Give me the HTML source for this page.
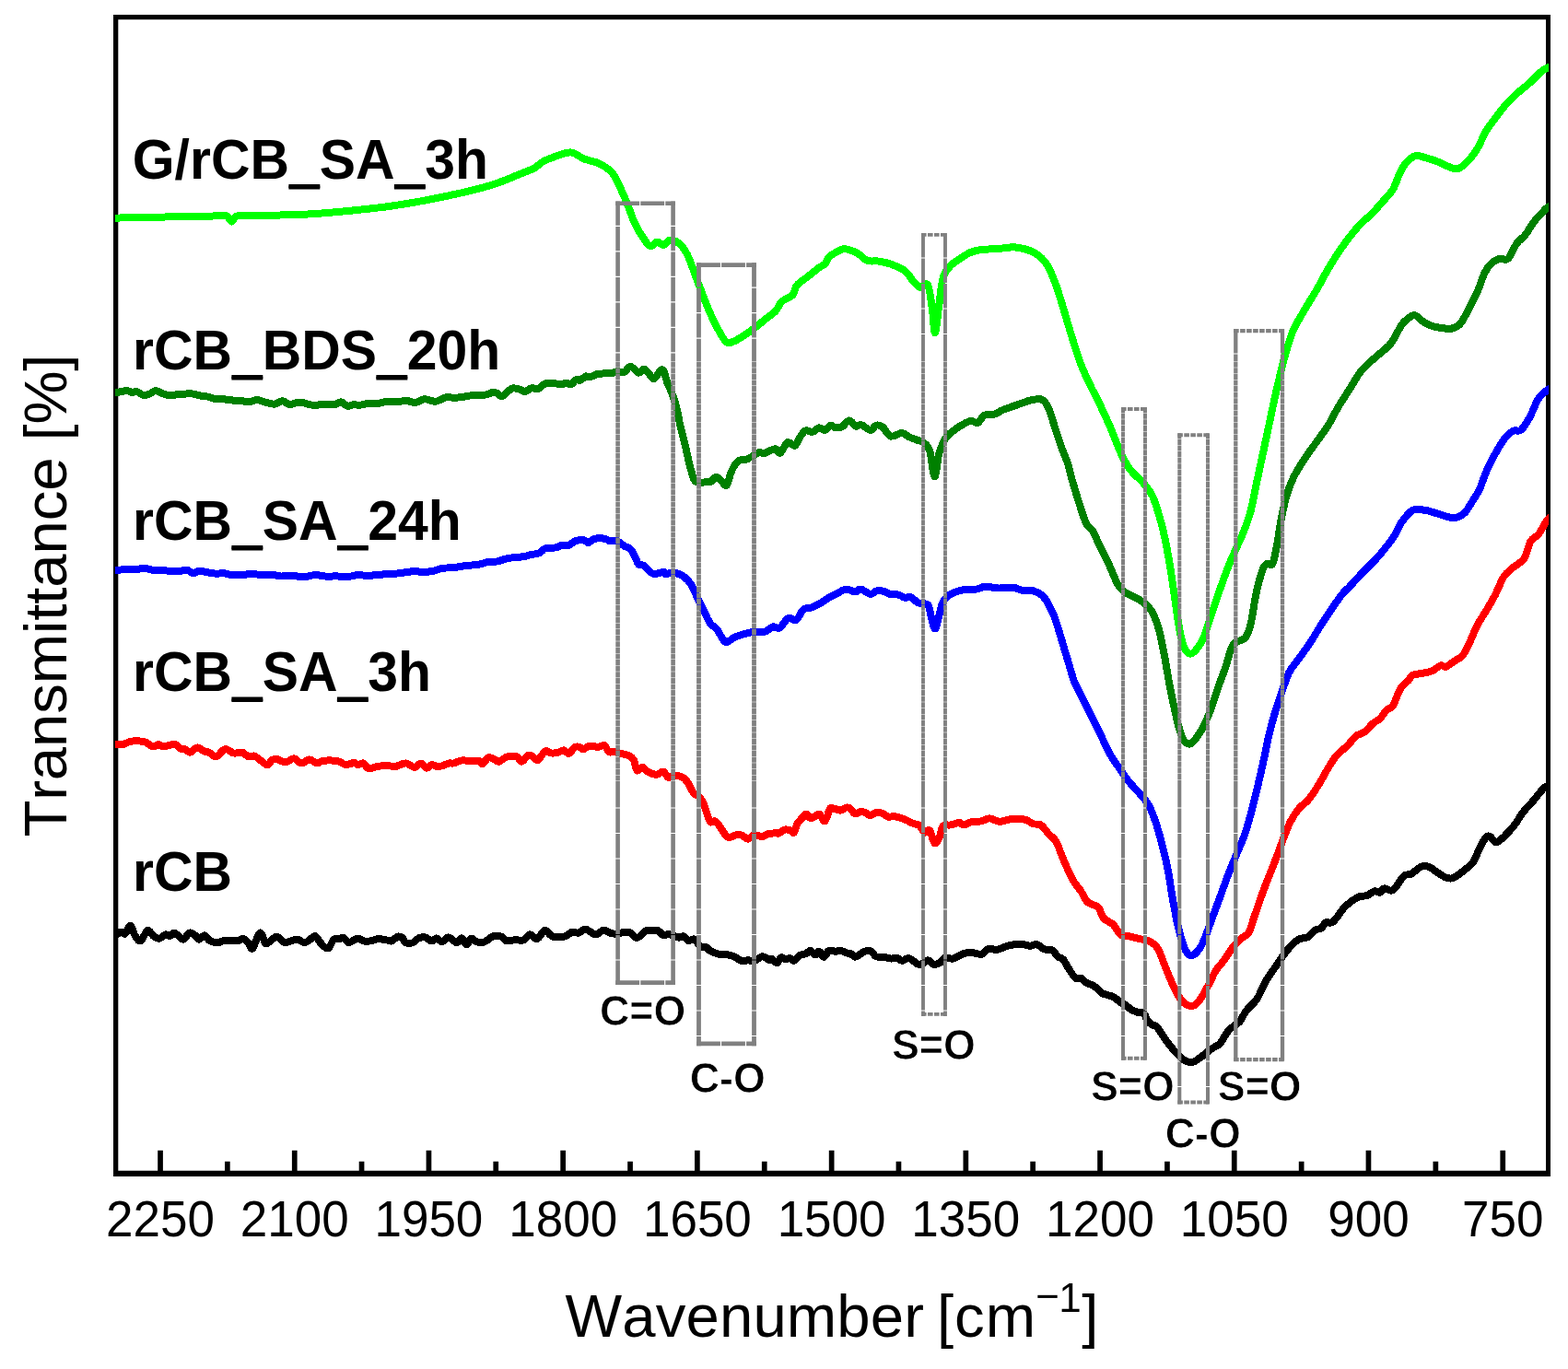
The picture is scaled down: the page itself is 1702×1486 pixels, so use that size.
<!DOCTYPE html>
<html lang="en"><head><meta charset="utf-8"><title>FTIR spectra</title>
<style>html,body{margin:0;padding:0;background:#fff}body{width:1702px;height:1486px;overflow:hidden}svg{display:block}text{font-family:"Liberation Sans",Arial,Helvetica,sans-serif;fill:#000;font-kerning:none}.b{font-weight:bold}</style>
</head><body>
<svg width="1702" height="1486" viewBox="0 0 1702 1486">
<rect width="1702" height="1486" fill="#fff"/>
<defs><clipPath id="c"><rect x="125" y="21.2" width="1556" height="1249.5"/></clipPath></defs>
<path d="M123 16H1683V1277H123Z M128.3 21.2V1270.7H1678V21.2Z" fill="#000" fill-rule="evenodd"/>
<path d="M171.2 1271.2v-22.5h5.7v22.5zM316.9 1271.2v-22.5h5.7v22.5zM462.6 1271.2v-22.5h5.7v22.5zM608.3 1271.2v-22.5h5.7v22.5zM754 1271.2v-22.5h5.7v22.5zM899.8 1271.2v-22.5h5.7v22.5zM1045.5 1271.2v-22.5h5.7v22.5zM1191.2 1271.2v-22.5h5.7v22.5zM1336.9 1271.2v-22.5h5.7v22.5zM1482.6 1271.2v-22.5h5.7v22.5zM1628.4 1271.2v-22.5h5.7v22.5zM244 1271.2v-10.5h5.7v10.5zM389.7 1271.2v-10.5h5.7v10.5zM535.4 1271.2v-10.5h5.7v10.5zM681.2 1271.2v-10.5h5.7v10.5zM826.9 1271.2v-10.5h5.7v10.5zM972.6 1271.2v-10.5h5.7v10.5zM1118.3 1271.2v-10.5h5.7v10.5zM1264.1 1271.2v-10.5h5.7v10.5zM1409.8 1271.2v-10.5h5.7v10.5zM1555.5 1271.2v-10.5h5.7v10.5z" fill="#000"/>
<g clip-path="url(#c)" fill="none" stroke-width="8" stroke-linejoin="round" stroke-linecap="butt" shape-rendering="crispEdges">
<path stroke="#000000" d="M118 1015C119.2 1015 123.7 1015.3 125.4 1015C127.1 1014.7 126.9 1014 127.9 1013.5C128.9 1012.9 130.1 1011.7 131.5 1011.7C132.8 1011.7 134.2 1014.7 135.9 1013.5C137.5 1012.3 139.7 1004.4 141.5 1004.7C143.3 1005 144.6 1012.5 146.4 1015.3C148.3 1018 150.3 1022.3 152.6 1021.4C154.9 1020.5 157.8 1010.8 160.2 1010C162.5 1009.1 164.6 1014.7 166.7 1016.1C168.8 1017.6 170.7 1019.1 172.9 1018.8C175.1 1018.5 178 1014.8 179.9 1014.4C181.8 1013.9 182.8 1016.4 184.3 1016.1C185.9 1015.8 187.5 1012.6 189.1 1012.6C190.7 1012.6 192.4 1015 194 1016.1C195.7 1017.3 197 1020.2 199 1019.7C201 1019.1 203.9 1013.3 206 1012.6C208.1 1011.9 210 1014.1 211.7 1015.3C213.3 1016.4 214.3 1019.7 216.1 1019.7C217.8 1019.7 220.3 1015 222.2 1015.3C224.1 1015.5 225.2 1019.6 227.5 1020.9C229.9 1022.2 233.7 1023.2 236.3 1023.2C239 1023.2 240.5 1021.3 243.4 1020.9C246.3 1020.5 251.3 1020.5 254 1020.5C256.6 1020.5 257.6 1021.2 259.3 1020.9C261 1020.6 262.4 1018.3 264.2 1018.8C266 1019.3 268.2 1022.3 269.8 1024.1C271.5 1025.8 272.2 1031.3 274.2 1029.4C276.3 1027.4 279.8 1013.5 282.2 1012.6C284.5 1011.7 286.3 1022.7 288.3 1024.1C290.4 1025.4 292.5 1021.8 294.5 1020.5C296.6 1019.3 298.3 1016.2 300.7 1016.7C303 1017.1 306.1 1022.4 308.6 1023.2C311.1 1024 313.3 1022 315.7 1021.4C318 1020.8 320.2 1019.4 322.7 1019.7C325.2 1020 328.3 1023.2 330.6 1023.2C333 1023.2 334.9 1020.8 336.8 1019.7C338.7 1018.5 340 1015.3 342.1 1016.1C344.2 1017 346.8 1022.7 349.2 1024.9C351.5 1027.2 354 1030.2 356.2 1029.4C358.4 1028.5 360.3 1021.4 362.4 1019.7C364.4 1018 366.8 1019.4 368.5 1019.1C370.3 1018.8 371.3 1017.2 373 1017.9C374.6 1018.6 376.3 1022.8 378.2 1023.2C380.2 1023.6 382.6 1020.9 384.4 1020.2C386.2 1019.5 387.1 1018.6 388.8 1018.8C390.6 1019 392.8 1021 395 1021.4C397.2 1021.9 399.4 1021.8 402 1021.4C404.7 1021 407.9 1019.3 410.9 1019.1C413.8 1019 417.6 1020.2 420 1020.5C422.4 1020.9 423.4 1022.1 425.3 1021.4C427.2 1020.8 429.5 1017.3 431.5 1016.7C433.4 1016.1 435.3 1016.8 436.7 1017.9C438.2 1019 438.4 1022.3 440.3 1023.2C442.2 1024.1 445.9 1024 448.2 1023.2C450.6 1022.4 452.2 1019.4 454.4 1018.4C456.6 1017.5 459.1 1016.9 461.4 1017.4C463.8 1017.9 466.4 1021.2 468.5 1021.4C470.5 1021.6 471.9 1018.3 473.8 1018.4C475.7 1018.6 477.8 1022.5 479.9 1022.3C482.1 1022.1 484 1017.2 486.6 1017.4C489.3 1017.5 493.4 1023 495.8 1023.2C498.2 1023.4 499.3 1018 501.1 1018.4C502.8 1018.8 504.7 1025.4 506.4 1025.5C508.1 1025.5 509.5 1019.4 511.3 1018.8C513.1 1018.2 515 1021.2 517 1022C518.9 1022.7 521.1 1023.4 523.1 1023.2C525.2 1023 527.2 1021.7 529.3 1020.5C531.3 1019.4 533 1016.8 535.5 1016.1C538 1015.5 541.9 1015.8 544.3 1016.7C546.6 1017.5 547.1 1020.8 549.6 1021.4C552.1 1022 556.2 1020.3 559.3 1020.2C562.3 1020 565.4 1021.5 568.1 1020.5C570.7 1019.6 572.6 1014.6 575.1 1014.4C577.6 1014.1 580.4 1019.9 583.1 1019.1C585.7 1018.4 588.5 1010.6 591 1010C593.5 1009.3 596 1014 598 1015.3C600.1 1016.5 600.7 1017.2 603.3 1017.4C606 1017.5 611 1017.1 613.9 1016.1C616.8 1015.2 618.6 1012.3 621 1011.7C623.3 1011.1 625.7 1013.1 628 1012.6C630.4 1012.1 632.9 1008.7 635.1 1008.6C637.3 1008.4 639.2 1010.8 641.2 1011.7C643.3 1012.7 645 1014.7 647.4 1014.4C649.7 1014 652.7 1009.8 655.3 1009.6C658 1009.4 660.8 1012.5 663.3 1013.1C665.8 1013.8 668 1013.7 670.3 1013.5C672.7 1013.3 675 1011.9 677.4 1011.7C679.7 1011.6 682.1 1011.6 684.4 1012.6C686.8 1013.6 688.8 1018.2 691.5 1017.9C694.1 1017.6 697.9 1012.2 700.3 1010.8C702.6 1009.5 703.2 1009.7 705.6 1009.6C707.9 1009.5 712 1009.4 714.4 1010.3C716.8 1011.3 718.2 1014.7 720 1015.3C721.8 1015.9 723.5 1014.1 725.3 1014.1C727.1 1014.1 728.7 1014.7 730.6 1015.3C732.5 1015.9 734.8 1017.4 736.7 1017.6C738.7 1017.8 740.3 1015.8 742 1016.4C743.8 1017 745.4 1020.6 747.3 1021.1C749.2 1021.6 751.7 1018.8 753.5 1019.4C755.3 1020 756.4 1023.2 757.9 1024.7C759.4 1026.1 760.8 1027.6 762.3 1028.2C763.8 1028.8 765.2 1027.5 766.7 1028.2C768.2 1028.9 768.6 1030.9 771.1 1032.2C773.6 1033.6 778.5 1035.4 781.7 1036.1C784.9 1036.8 787.9 1036 790.5 1036.5C793.2 1036.9 795.1 1037.6 797.6 1038.8C800.1 1039.9 803.1 1042.6 805.5 1043.2C807.8 1043.8 809.5 1042.3 811.7 1042.3C813.9 1042.3 816.1 1043.8 818.7 1043.2C821.4 1042.5 824.9 1038.5 827.5 1038.2C830.2 1038 832.8 1041.3 834.6 1041.8C836.3 1042.2 836.6 1040.5 838.1 1041.1C839.6 1041.6 841.8 1045.6 843.4 1045.3C845 1045 846.2 1039.9 847.8 1039.3C849.4 1038.6 851.5 1041.3 853.1 1041.4C854.7 1041.5 856 1039.8 857.5 1040C859 1040.2 860.1 1043.3 861.9 1042.8C863.7 1042.3 865.9 1038.3 868.1 1037C870.3 1035.7 873.2 1036.1 875.1 1035.2C877 1034.4 877.9 1031.5 879.5 1031.7C881.1 1031.9 883.2 1036.3 884.8 1036.5C886.4 1036.6 887.6 1032.2 889.2 1032.6C890.8 1033 892.7 1038.9 894.5 1038.8C896.3 1038.6 897.7 1032.7 899.8 1031.7C901.9 1030.7 904.8 1032.9 906.8 1032.9C908.9 1032.9 910.1 1031.5 912.1 1031.7C914.2 1031.9 917.3 1033.8 919.2 1034.4C921.1 1034.9 922.1 1034.5 923.6 1035.2C925.1 1036 926.4 1038.6 928 1038.8C929.6 1038.9 931.5 1037.1 933.3 1036.1C935.1 1035.1 936.5 1033.2 938.6 1032.6C940.6 1032 943.6 1031.7 945.6 1032.6C947.7 1033.5 948.6 1037.2 950.9 1038.2C953.3 1039.3 957.1 1038.4 959.7 1038.8C962.4 1039.1 964.4 1040.3 966.8 1040.5C969.1 1040.7 971.8 1039.6 973.8 1040C975.9 1040.4 977.1 1042.8 979.1 1042.8C981.2 1042.8 984.1 1039.9 986.2 1040C988.2 1040.1 989.7 1042.1 991.5 1043.2C993.2 1044.3 995 1046.3 996.7 1046.7C998.5 1047.1 1000.3 1046.5 1002 1045.8C1003.8 1045.1 1005.4 1042.1 1007.3 1042.3C1009.2 1042.4 1011.4 1046.2 1013.5 1046.7C1015.6 1047.2 1018 1046.4 1020 1045.3C1022 1044.1 1022.9 1040.7 1025.4 1039.9C1027.9 1039.1 1031.5 1041.3 1034.9 1040.5C1038.2 1039.8 1042.3 1036.2 1045.7 1035.1C1049.1 1034.1 1051.8 1033.9 1055.1 1034.1C1058.5 1034.2 1063 1036.5 1065.9 1035.8C1068.9 1035.1 1070 1030.8 1072.7 1030C1075.4 1029.2 1078.8 1031.3 1082.2 1030.8C1085.5 1030.3 1089.6 1028 1093 1027C1096.4 1026.1 1099.5 1025.3 1102.4 1025C1105.4 1024.7 1108 1024.7 1110.5 1025C1113.1 1025.3 1115.5 1026.8 1118 1026.8C1120.5 1026.8 1122.8 1024.4 1125.4 1025C1128 1025.6 1130.8 1029.4 1133.5 1030.4C1136.2 1031.4 1139.1 1029.7 1141.6 1031.1C1144.1 1032.4 1146.4 1036.8 1148.4 1038.5C1150.4 1040.2 1152 1039.3 1153.8 1041.2C1155.6 1043.1 1156.9 1046.6 1159.2 1050C1161.4 1053.4 1164.8 1059.5 1167.3 1061.5C1169.8 1063.5 1172 1061.3 1174.1 1062.2C1176.1 1063.1 1177.2 1065.5 1179.5 1066.9C1181.7 1068.2 1184.9 1068.5 1187.6 1070.3C1190.3 1072.1 1193.4 1076.1 1195.7 1077.7C1197.9 1079.3 1198.8 1078.9 1201.1 1079.7C1203.3 1080.5 1206.7 1081.1 1209.2 1082.4C1211.7 1083.8 1213.9 1086.5 1215.9 1087.8C1218 1089.2 1219.3 1089.2 1221.4 1090.5C1223.4 1091.9 1225.6 1094.5 1228.1 1095.9C1230.6 1097.4 1234 1098.6 1236.2 1099.3C1238.5 1100 1240 1098.5 1241.6 1100C1243.2 1101.5 1244.3 1106.1 1245.7 1108.1C1247.1 1110.1 1248.3 1111 1250 1112.2C1251.7 1113.3 1253.4 1112.1 1256 1114.9C1258.6 1117.7 1262.2 1124.7 1265.4 1129C1268.6 1133.3 1271.8 1137.3 1274.9 1140.8C1278.1 1144.3 1281.2 1148 1284.3 1150C1287.4 1152 1290.6 1153.4 1293.7 1153.1C1296.8 1152.8 1299.5 1150.3 1303 1147.9C1306.5 1145.5 1311.4 1141 1314.9 1138.5C1318.5 1136 1321.2 1135.9 1324.3 1132.6C1327.4 1129.2 1330.2 1122.3 1333.7 1118.4C1337.2 1114.5 1342.3 1112.5 1345.5 1109C1348.7 1105.5 1349.4 1101.3 1352.6 1097.2C1355.8 1093.1 1360.9 1089.6 1364.4 1084.3C1367.9 1079 1370.3 1071.5 1373.8 1065.4C1377.3 1059.3 1381.7 1053.5 1385.6 1047.8C1389.5 1042.1 1393.4 1035.9 1397.3 1031.3C1401.2 1026.7 1405.2 1022.4 1409 1020C1412.8 1017.6 1417 1018.7 1420 1017C1423 1015.3 1424.8 1011.4 1427.2 1009.8C1429.6 1008.2 1432.3 1008.8 1434.3 1007.4C1436.3 1006 1436.8 1002.7 1439 1001.5C1441.2 1000.3 1443.7 1003.3 1447.2 1000.4C1450.7 997.5 1455.7 988.3 1460.2 983.9C1464.7 979.5 1470.4 975.7 1474.3 973.7C1478.2 971.7 1480.8 973.2 1483.7 972.1C1486.7 971 1489.6 968 1492 967.4C1494.4 966.8 1496.1 969.1 1497.9 968.6C1499.7 968.1 1500.6 964.6 1502.6 964.3C1504.6 964 1507.7 966.8 1509.7 966.7C1511.7 966.6 1512.1 966.4 1514.4 963.8C1516.8 961.2 1520.9 953.4 1523.8 950.9C1526.7 948.4 1528.9 950.2 1532 948.5C1535.1 946.8 1539.4 942.1 1542.6 940.8C1545.8 939.5 1548.2 939.9 1550.9 940.8C1553.6 941.7 1556 944.3 1559 946.2C1562 948.1 1565.6 950.9 1568.6 952.1C1571.6 953.3 1573.7 954.2 1576.8 953.2C1579.9 952.2 1583.7 949.1 1587.4 946.2C1591.1 943.3 1596.1 939.9 1599.2 935.6C1602.3 931.3 1603.9 924.8 1606.2 920.3C1608.5 915.8 1611.3 910.5 1613.3 908.5C1615.3 906.5 1616.2 907.5 1618 908.5C1619.8 909.5 1621.5 914.4 1623.9 914.4C1626.3 914.4 1628.9 911.6 1632.2 908.5C1635.5 905.4 1640.5 900 1644 895.5C1647.5 891 1649.9 885.9 1653.4 881.4C1656.9 876.9 1661.5 872.5 1665 868.4C1668.5 864.3 1672.2 859.2 1674.6 856.7C1677 854.2 1677.1 854.3 1679.3 853.1C1681.5 851.9 1686.5 850.3 1688 849.8"/>
<path stroke="#ff0000" d="M118 808.4C119.2 808.4 123.7 808.4 125.4 808.4C127.1 808.4 126.5 808.3 127.9 808.2C129.4 808.1 131.9 808.4 134.1 807.9C136.3 807.3 138.7 805.6 141.2 805C143.7 804.4 146.3 804.2 149.1 804.3C151.9 804.4 155.1 804.6 157.9 805.6C160.7 806.6 163.5 809.9 165.8 810.3C168.2 810.8 170.1 808.2 172 808.2C173.9 808.2 175.4 810.2 177.3 810.3C179.2 810.5 181.3 809.5 183.5 809.1C185.7 808.7 188.3 807.2 190.5 807.9C192.7 808.5 194.9 812.2 196.7 813.1C198.4 814.1 199.5 812.9 201.1 813.5C202.7 814.1 204.2 817 206.4 816.7C208.6 816.3 211.8 811.6 214.3 811.4C216.8 811.1 219.2 814.3 221.4 815.3C223.6 816.2 225.3 816 227.5 817C229.7 818 231.8 822.1 234.6 821.4C237.4 820.8 241.2 813.8 244.3 813.1C247.4 812.5 250.6 816.7 253.1 817.4C255.6 818 257.5 817.1 259.3 817C261 817 261.9 816.3 263.7 817C265.4 817.8 267.8 820.8 269.8 821.4C271.9 822 273.9 820 276 820.5C278.1 821.1 279.8 823.3 282.2 824.9C284.5 826.6 287.9 830.2 290.1 830.2C292.3 830.2 293.6 826 295.4 824.9C297.2 823.9 298.8 823.8 300.7 824.1C302.6 824.4 304.9 826.3 306.8 826.7C308.8 827.2 310.1 827.3 312.1 826.7C314.2 826.1 316.7 822.9 319.2 823.2C321.7 823.5 324.3 828.3 327.1 828.5C329.9 828.7 333.1 824.4 335.9 824.4C338.7 824.4 341.4 828.2 343.9 828.5C346.4 828.7 347.1 826.2 350.9 825.8C354.7 825.4 363 825.5 366.8 826.2C370.6 826.8 371.8 829.2 373.8 829.7C375.9 830.2 377.4 829.7 379.1 829.4C380.9 829.1 382.8 827.8 384.4 827.9C386 828.1 387.2 830.1 388.8 830.2C390.4 830.3 392.2 827.8 394.1 828.5C396 829.2 397.8 833.7 400.3 834.3C402.8 834.9 405.8 832.5 409.1 832C412.4 831.5 416.7 831.1 420 831.1C423.3 831.1 426.5 832.1 428.8 832C431.2 831.9 432 830.8 434.1 830.2C436.2 829.7 438.5 828 441.2 828.5C443.8 828.9 447.3 832.9 450 832.9C452.6 832.9 454.8 828.3 457 828.5C459.2 828.6 461.3 833.5 463.2 833.8C465.1 834.1 466.6 830.5 468.5 830.2C470.4 829.9 472.6 831.9 474.6 832C476.7 832.1 478.8 831.7 480.8 831.1C482.9 830.5 485.1 828.9 487 828.5C488.9 828 490.2 828.9 492.3 828.5C494.3 828 497.3 826.3 499.3 825.8C501.4 825.3 503 825.4 504.6 825.5C506.2 825.5 507.3 826.2 509 826.2C510.8 826.2 513.3 825.5 515.2 825.5C517.1 825.5 519 825.6 520.5 826.2C521.9 826.8 522.4 829.7 524 829C525.6 828.4 528.1 823.1 530.2 822.3C532.2 821.5 534.4 823.3 536.3 824.1C538.3 824.8 539.3 827.2 541.6 826.7C544 826.3 547.2 822.3 550.4 821.4C553.7 820.5 558.4 820.5 561 821.4C563.7 822.3 564.3 827 566.3 826.7C568.4 826.4 571.3 820.5 573.4 819.7C575.4 818.8 576.9 820.5 578.6 821.4C580.4 822.3 581.7 826 583.9 824.9C586.1 823.9 589.5 816.5 591.9 815.3C594.2 814 595.8 817.1 598 817.4C600.2 817.7 602.7 817.5 605.1 817C607.4 816.5 610.1 814.2 612.1 814.4C614.2 814.5 615.4 818.5 617.4 817.9C619.5 817.3 622.4 811.9 624.5 810.8C626.5 809.8 628.3 810.9 629.8 811.4C631.2 811.8 631.7 813.8 633.3 813.5C634.9 813.2 636.8 810.1 639.5 809.6C642.1 809.2 646.4 810.9 649.2 810.8C651.9 810.8 654.3 808.2 656.2 809.1C658.1 810 658.9 815 660.6 816.1C662.4 817.3 664.6 815.8 666.8 816.1C669 816.4 671.2 817.2 673.8 817.9C676.5 818.6 680.3 819 682.6 820.2C685 821.4 686.5 822.2 687.9 824.9C689.4 827.7 689.8 835.1 691.5 836.4C693.1 837.7 695.6 832.6 697.6 832.9C699.7 833.2 701.3 836.8 703.8 838.2C706.3 839.5 709.9 840.9 712.6 840.8C715.3 840.7 717.9 837.1 720 837.6C722.1 838.1 723.5 843 725.3 843.8C727.1 844.6 728.2 842.7 730.6 842.6C732.9 842.4 736.7 841.8 739.4 842.9C742 844 744.2 846.1 746.4 849.1C748.6 852 750.7 858 752.6 860.5C754.5 863 756.1 862.3 757.9 864.1C759.7 865.8 761.6 867.9 763.2 871.1C764.8 874.4 766.3 879.9 767.6 883.5C768.9 887 769.7 891 771.1 892.3C772.6 893.6 774.6 890.5 776.4 891.4C778.2 892.3 780.1 895.4 781.7 897.6C783.3 899.8 784.5 902.7 786.1 904.6C787.7 906.5 789.2 908.7 791.4 909C793.6 909.3 797 906.8 799.3 906.4C801.7 906 803.4 906 805.5 906.7C807.5 907.5 809.5 910.8 811.7 910.8C813.9 910.7 816.1 906.8 818.7 906.4C821.4 905.9 825.2 908.3 827.5 908.1C829.9 908 830.5 906.1 832.8 905.5C835.2 904.8 839.6 904.4 841.6 904.3C843.7 904.1 843.5 905.2 845.2 904.6C846.8 904 849.3 901.3 851.3 900.7C853.4 900.1 855.7 900.6 857.5 901.1C859.3 901.6 860.6 904.9 861.9 903.7C863.2 902.6 864 896.7 865.4 894C866.9 891.4 869.1 889.6 870.7 887.9C872.3 886.1 873.5 883.4 875.1 883.5C876.7 883.5 878.1 888.3 880.4 888.4C882.8 888.5 886.7 883.3 889.2 883.8C891.7 884.3 893.5 892.3 895.4 891.4C897.3 890.5 899.2 880.5 900.7 878.2C902.1 875.8 902.3 877.1 904.2 877.3C906.1 877.5 909.6 879.7 912.1 879.6C914.6 879.4 917.3 876.6 919.2 876.4C921.1 876.2 922.1 877 923.6 878.2C925.1 879.3 926.4 882.9 928 883.5C929.6 884 931.4 881.6 933.3 881.3C935.2 881.1 937.6 881.4 939.5 882C941.4 882.7 942.8 885.2 944.7 885.2C946.7 885.2 948.9 882.5 950.9 882C953 881.6 954.9 881.8 957.1 882.6C959.3 883.3 961.9 886 964.1 886.6C966.3 887.2 968.1 885.9 970.3 886.1C972.5 886.3 975 887.1 977.4 887.9C979.7 888.6 982.1 889.5 984.4 890.5C986.8 891.5 989.3 893.2 991.5 894C993.7 894.9 995.6 894.2 997.6 895.8C999.7 897.4 1001.9 902.8 1003.8 903.7C1005.7 904.7 1007.3 899.5 1009.1 901.4C1010.9 903.3 1012.6 914.1 1014.4 915.2C1016.2 916.3 1018.5 911.2 1020 908.1C1021.6 905 1021.7 898.7 1023.7 896.6C1025.7 894.5 1029.1 896 1032 895.4C1034.9 894.8 1039 893 1041.3 893C1043.6 893 1043.6 895.6 1046 895.4C1048.4 895.2 1052.3 892.6 1055.5 891.9C1058.7 891.2 1061.8 892 1064.9 891.4C1068 890.8 1071 888.2 1074.3 888.3C1077.6 888.4 1081.5 891.7 1085 891.9C1088.5 892.1 1091 889.9 1095.5 889.5C1100 889.1 1107.7 888.7 1112 889.5C1116.3 890.3 1118.5 893.2 1121.4 894.2C1124.4 895.2 1127 893.6 1129.7 895.4C1132.5 897.2 1135.2 901.8 1137.9 904.8C1140.7 907.8 1143.9 909.4 1146.2 913.1C1148.5 916.8 1149.9 922.1 1152 927.2C1154.1 932.3 1156.6 938.6 1159 943.7C1161.4 948.8 1163.8 953.9 1166.2 957.8C1168.6 961.7 1171 963.8 1173.3 967.3C1175.6 970.8 1177.2 976.1 1180.3 979C1183.4 981.9 1189.1 981.9 1192.1 984.9C1195 987.9 1195.2 993.6 1198 996.7C1200.8 999.9 1205.5 1000.8 1208.6 1003.8C1211.7 1006.8 1213.8 1012.9 1216.8 1015C1219.8 1017.1 1222.9 1015.8 1226.3 1016.5C1229.7 1017.2 1233.2 1018 1236.9 1019C1240.6 1020 1245.3 1020.4 1248.6 1022.2C1251.9 1024 1254.3 1025.5 1256.9 1029.7C1259.5 1033.9 1261.5 1041.1 1264 1047.3C1266.5 1053.5 1269.5 1061.2 1272.2 1067C1274.9 1072.8 1277.5 1078.5 1280 1082.3C1282.5 1086.1 1284.3 1088.5 1287 1090C1289.7 1091.5 1293.3 1092.5 1296 1091.5C1298.7 1090.5 1300.2 1088.2 1303 1084.3C1305.8 1080.3 1309.7 1072.9 1312.5 1067.8C1315.3 1062.7 1316.8 1058 1319.6 1053.7C1322.3 1049.4 1325.8 1046.2 1329 1041.9C1332.2 1037.6 1335.3 1031.6 1338.5 1027.7C1341.7 1023.8 1345.1 1020.9 1347.9 1018.3C1350.7 1015.7 1353.3 1015.7 1355.5 1012C1357.7 1008.3 1358.7 1003.2 1361.2 996C1363.7 988.8 1367.6 977.1 1370.7 968.6C1373.8 960.1 1377.2 952.1 1380 945C1382.8 937.9 1384.8 932.4 1387.2 926.1C1389.6 919.8 1391.9 913.2 1394.2 907.3C1396.5 901.4 1398.5 895.9 1401.3 890.8C1404 885.7 1407.6 880.4 1410.7 876.7C1413.8 873 1416.5 872.7 1420 868.4C1423.5 864.1 1428.5 856.5 1432 850.8C1435.5 845.1 1438.2 839.4 1441.3 834.3C1444.4 829.2 1447.3 824.2 1450.8 820.1C1454.3 816 1459 813 1462.5 809.5C1466 806 1468.8 801.4 1472 798.9C1475.2 796.4 1478.3 796.6 1481.4 794.2C1484.5 791.9 1488 787.1 1490.8 784.8C1493.5 782.4 1495.5 782.5 1497.9 780.1C1500.3 777.8 1502.7 773.1 1505 770.7C1507.3 768.4 1509.5 769.9 1512 766C1514.5 762.1 1517.5 751.6 1520.3 747.1C1523 742.6 1526.3 741.2 1528.5 738.9C1530.7 736.5 1530.5 734.4 1533.2 733C1536 731.6 1541.5 731.4 1545 730.6C1548.5 729.8 1551.3 729.7 1554.4 728.3C1557.5 726.9 1561.2 723.2 1563.8 722.4C1566.3 721.6 1567 724.6 1569.7 723.6C1572.5 722.6 1577.3 718.4 1580.3 716.5C1583.2 714.6 1585 714.9 1587.4 712C1589.8 709.1 1591.8 704.7 1594.5 699C1597.2 693.3 1600.8 684 1603.9 678C1607 672 1610.2 668 1613.3 662.7C1616.4 657.4 1619.5 652.3 1622.7 646.2C1625.9 640.1 1629.1 631.1 1632.2 626.2C1635.3 621.3 1638.5 619.5 1641.6 616.7C1644.7 614 1648.7 611.9 1651 609.7C1653.3 607.6 1653.9 607.5 1655.7 603.8C1657.5 600.1 1659.2 591.2 1661.6 587.3C1663.9 583.4 1666.8 583.9 1669.8 580.2C1672.8 576.5 1676.3 568.6 1679.3 564.9C1682.3 561.2 1686.5 559.1 1688 557.9"/>
<path stroke="#0000ff" d="M118 619.1C119.2 619.1 122 619.3 125.3 619.1C128.6 618.9 134.1 618 137.6 617.9C141.2 617.8 143.2 618.6 146.4 618.4C149.7 618.2 153.8 616.6 157 616.7C160.2 616.7 162.3 618.4 165.8 618.8C169.4 619.2 174.9 618.9 178.2 619.1C181.4 619.4 182.6 620 185.2 620.2C187.9 620.4 191.1 620.4 194 620.2C197 620 200.2 618.4 202.8 618.8C205.5 619.1 207.7 622.2 209.9 622.3C212.1 622.5 213.4 619.8 216.1 619.7C218.7 619.5 222.7 620.9 225.8 621.4C228.8 621.9 231.6 622.5 234.6 622.7C237.5 622.8 240.5 622 243.4 622.3C246.3 622.6 248.7 624.2 252.2 624.4C255.7 624.7 260.7 623.9 264.5 623.7C268.4 623.5 271.3 623.1 275.1 623.2C278.9 623.3 283.9 624.3 287.5 624.4C291 624.6 293.3 623.9 296.3 624.1C299.2 624.2 301.6 625.3 305.1 625.5C308.6 625.6 313.3 624.8 317.4 624.9C321.5 625.1 325.7 626.3 329.8 626.2C333.9 626 338.3 624.2 342.1 624.1C345.9 624 348.6 625.2 352.7 625.5C356.8 625.7 362.7 625.4 366.8 625.5C370.9 625.6 373.8 626.4 377.4 626.2C380.9 625.9 384.4 624.3 387.9 624.1C391.5 623.9 395 624.9 398.5 624.9C402 624.9 405.5 624.4 409.1 624.1C412.7 623.8 416.4 623.4 420 623.1C423.6 622.9 426.8 623 430.6 622.6C434.4 622.2 439.2 621.3 442.9 620.8C446.6 620.4 450.1 619.8 452.6 619.9C455.1 620 454.8 621.4 457.9 621.3C461 621.3 467.4 620.3 471.1 619.6C474.8 618.8 476.7 617.3 479.9 616.8C483.2 616.2 487.3 616.7 490.5 616.4C493.7 616.1 496.4 615.4 499.3 615C502.3 614.6 504.9 614.1 508.1 613.8C511.4 613.4 515.2 613.5 518.7 612.9C522.2 612.3 525.8 610.8 529.3 610.2C532.8 609.7 536.3 610 539.9 609.4C543.4 608.7 546.9 606.9 550.4 606.2C554 605.4 557.9 605.3 561 604.9C564.1 604.6 566.6 604.5 569 604.1C571.3 603.6 572.3 603 575.1 602.3C577.9 601.7 582.9 601.4 585.7 600.2C588.5 599 588.9 596.2 591.9 595.3C594.8 594.3 600.2 595 603.3 594.4C606.4 593.8 608 592.2 610.4 591.7C612.7 591.3 615.1 592.5 617.4 591.7C619.8 591 621.8 588.3 624.5 587.3C627.1 586.4 630.9 585.8 633.3 586.1C635.6 586.4 636.7 589.3 638.6 589.1C640.5 588.9 641.8 585.8 644.7 585C647.7 584.3 653.3 584.3 656.2 584.7C659.1 585.1 660 586.9 662.4 587.3C664.7 587.8 667.8 586.4 670.3 587.3C672.8 588.2 675 591.1 677.4 592.6C679.7 594.1 682.4 594.1 684.4 596.1C686.5 598.2 688.2 602.2 689.7 604.9C691.2 607.7 691.8 611.4 693.2 612.9C694.7 614.4 696.5 612.4 698.5 613.8C700.6 615.1 703.5 619.3 705.6 620.8C707.6 622.4 708.4 623.1 710.9 623.1C713.3 623.1 718.1 620.8 720 620.8C722 620.8 720.8 623 722.6 623.1C724.4 623.2 727.6 621 730.9 621.5C734.2 622 739.3 623.9 742.6 626.2C745.9 628.6 748.5 631.9 750.9 635.6C753.3 639.3 754.6 644.1 756.8 648.6C758.9 653.1 761.4 658 763.8 662.7C766.2 667.4 768.6 673.5 771 676.8C773.4 680.1 775.7 679.8 778 682.7C780.3 685.7 783.1 692.1 785 694.5C786.9 696.9 787.3 697.2 789.3 696.8C791.3 696.4 794 693.5 796.8 692.1C799.6 690.7 802.7 689.7 806.2 688.6C809.7 687.5 814.1 686.3 818 685.8C821.9 685.3 826.3 686.7 829.8 685.8C833.3 684.9 836.5 681.1 839.2 680.4C842 679.7 843.5 683.1 846.3 681.5C849 679.9 852.8 672.3 855.7 670.9C858.7 669.5 861.2 674.9 864 673.3C866.8 671.7 869.3 663.9 872.2 661.5C875.1 659.1 878.5 660.4 881.6 659.2C884.7 658 887.9 656.2 891 654.4C894.1 652.6 896.9 650.3 900 648.5C903.1 646.7 906.3 645.2 909.4 643.7C912.5 642.2 915.6 639.7 918.8 639.5C921.9 639.3 925.7 642.5 928.3 642.5C930.9 642.5 931.5 639.1 934.2 639.5C937 639.9 941.9 644.6 944.8 644.9C947.7 645.2 949.4 641.8 951.8 641.3C954.1 640.8 956.5 641.2 958.9 641.8C961.3 642.4 963.2 644.3 966 644.9C968.8 645.5 972.7 644.9 975.4 645.6C978.1 646.3 980.2 648.5 982.4 648.9C984.5 649.3 985.9 647 988.3 647.9C990.7 648.8 993.5 652.8 996.6 654.3C999.8 655.8 1004.9 654.2 1007.2 656.7C1009.6 659.2 1009.4 665.3 1010.7 669.6C1012 673.9 1013.6 682.6 1015 682.6C1016.4 682.6 1017.5 674.5 1019 669.6C1020.5 664.7 1021.5 657.2 1023.7 653.1C1025.9 649 1028.3 647 1032 644.9C1035.7 642.8 1041.3 641.1 1046 640.2C1050.7 639.3 1056.3 640.1 1060.2 639.5C1064.1 638.9 1065.7 636.8 1069.6 636.6C1073.5 636.4 1078.6 638.3 1083.7 638.5C1088.8 638.7 1095.9 637.4 1100.2 637.8C1104.5 638.2 1106.2 640.3 1109.7 640.9C1113.2 641.5 1117.9 640.4 1121.4 641.3C1124.9 642.2 1128.2 643.7 1130.9 646.1C1133.7 648.5 1135.6 651.4 1137.9 655.5C1140.2 659.6 1142.7 664.5 1145 670.8C1147.3 677.1 1149.7 685.6 1152 693.2C1154.3 700.9 1156.6 708.9 1159 716.7C1161.4 724.6 1163.8 734 1166.2 740.3C1168.6 746.6 1170.5 748.9 1173.3 754.4C1176 759.9 1179.2 766.2 1182.7 773.3C1186.2 780.4 1191 789.7 1194.5 797C1198 804.3 1200.4 810.7 1203.9 817C1207.4 823.3 1212.2 829.8 1215.7 835C1219.2 840.2 1221.5 843.6 1225 848C1228.5 852.4 1233.4 857 1236.9 861.2C1240.5 865.4 1243.5 868.3 1246.3 873C1249 877.7 1251.1 882.8 1253.4 889.5C1255.8 896.2 1258.1 904.2 1260.4 913.1C1262.8 922 1265.5 932.9 1267.5 943C1269.5 953.1 1270.7 963.4 1272.5 973.6C1274.3 983.8 1276.4 995.6 1278.4 1004.2C1280.4 1012.8 1282.5 1020.3 1284.3 1025.4C1286.1 1030.5 1287.4 1032.8 1289 1034.8C1290.6 1036.8 1291.7 1037.8 1293.7 1037.2C1295.7 1036.7 1298.6 1034.3 1300.8 1031.5C1303 1028.7 1304.8 1025.4 1307 1020.4C1309.2 1015.4 1311.2 1009 1314 1001.5C1316.8 994 1320.4 984.2 1323.6 975.6C1326.8 967 1330.1 957.4 1333 949.7C1335.9 942.1 1338.3 936.8 1341.2 929.7C1344.1 922.6 1347.8 915 1350.6 907.3C1353.3 899.6 1355.5 891.6 1357.7 883.7C1359.9 875.9 1361.4 869.2 1363.6 860.2C1365.8 851.2 1368.3 840.2 1370.7 829.6C1373.1 819 1375.4 806.4 1377.7 796.6C1380 786.8 1382.4 778.6 1384.8 770.7C1387.2 762.9 1389.6 756.2 1391.9 749.5C1394.2 742.8 1396.6 735.5 1398.9 730.6C1401.2 725.7 1403.7 723.3 1406 720C1408.3 716.7 1409.8 715.2 1413 710.8C1416.2 706.3 1421.7 698.2 1424.9 693.3C1428.1 688.4 1428.5 687 1432 681.5C1435.5 676 1441.7 666.6 1446 660.3C1450.3 654 1454.6 647.7 1457.8 643.8C1461 639.9 1461.4 640.5 1464.9 636.8C1468.4 633.1 1474.3 626.4 1479 621.5C1483.7 616.6 1488.9 612 1493.2 607.3C1497.5 602.6 1501.5 597.7 1505 593.2C1508.5 588.7 1511.9 584.3 1514.4 580.2C1517 576.1 1518 572.2 1520.3 568.5C1522.6 564.8 1526 560.5 1528.5 557.9C1531 555.3 1532.5 553.8 1535.6 553.1C1538.7 552.4 1543.4 553.2 1547.3 553.9C1551.2 554.6 1555.1 555.9 1559 557.1C1562.9 558.3 1567.4 560.1 1570.9 560.9C1574.5 561.7 1577.2 562.6 1580.3 561.9C1583.4 561.2 1586.6 559.9 1589.8 556.7C1593 553.5 1596.5 546.8 1599.2 542.5C1601.9 538.2 1603.9 535.9 1606.2 530.8C1608.5 525.7 1610.5 518.2 1613.3 511.9C1616 505.6 1619.2 499.3 1622.7 493C1626.2 486.7 1631.2 478.4 1634.5 474.2C1637.8 470 1640 468.9 1642.8 467.6C1645.5 466.4 1648.1 469.1 1651 466.7C1653.9 464.3 1657.3 458.6 1660.4 453C1663.5 447.4 1666.7 437.9 1669.8 433C1672.9 428.1 1676.3 425.9 1679.3 423.6C1682.3 421.3 1686.5 420 1688 419.3"/>
<path stroke="#008000" d="M118 426.3C119.2 426.3 123.7 426.4 125.4 426.3C127.1 426.2 125.9 426.2 127.9 425.8C130 425.5 135.1 424.1 137.6 424.1C140.1 424.1 141 425.6 142.9 425.8C144.8 426.1 147 424.8 149.1 425.3C151.1 425.8 153.1 428.5 155.3 428.8C157.5 429.2 160.1 428.4 162.3 427.6C164.5 426.8 166.4 424.3 168.5 424.1C170.5 423.9 172.4 425.6 174.6 426.4C176.8 427.2 179.1 428.5 181.7 428.8C184.3 429.2 187.6 428.7 190.5 428.5C193.4 428.3 196.1 427.8 199.3 427.6C202.6 427.5 206.7 427.2 209.9 427.6C213.1 428 216.1 429.4 218.7 429.9C221.4 430.4 223.4 430.1 225.8 430.6C228.1 431.1 229.9 432.4 232.8 432.9C235.8 433.4 239.9 433.1 243.4 433.4C246.9 433.7 250.7 434.4 254 434.7C257.2 435 260.1 434.9 262.8 435.2C265.4 435.5 267.2 436.6 269.8 436.4C272.5 436.2 275.7 434.1 278.6 434.1C281.6 434.1 284.2 435.7 287.5 436.4C290.7 437.2 294.8 438.9 298 438.7C301.3 438.5 304.2 435.1 306.8 435.2C309.5 435.2 311.6 438.7 313.9 439.1C316.3 439.4 318.5 437.7 321 437.3C323.4 437 326.2 436.6 328.9 437C331.5 437.3 333.4 439 336.8 439.4C340.2 439.8 344.7 439.5 349.2 439.4C353.6 439.4 359.7 439.6 363.3 439.1C366.8 438.6 368 436.1 370.3 436.4C372.7 436.7 375 440.4 377.4 440.8C379.7 441.3 382.4 439.2 384.4 439.1C386.5 438.9 387.3 440.1 389.7 439.9C392 439.8 395.3 438.5 398.5 438.2C401.7 437.9 405.5 438.6 409.1 438.2C412.7 437.8 416.4 436.1 420 435.8C423.6 435.5 427.1 436.5 430.6 436.3C434.1 436.2 437.8 434.8 441.2 434.9C444.5 435.1 447.6 437.3 450.8 437C454.1 436.8 456.9 433.4 460.5 433.2C464.2 433 469.1 436.1 472.9 435.8C476.7 435.5 479.9 432.1 483.5 431.4C487 430.7 490.5 431.9 494 431.8C497.6 431.6 501.7 430.9 504.6 430.5C507.5 430.1 508.1 429.6 511.7 429.3C515.2 429 521.9 429.3 525.8 428.8C529.6 428.2 532.2 426.4 534.6 426.1C536.9 425.8 538.1 426.4 539.9 427C541.6 427.6 542.5 430.9 545.2 430C547.8 429.1 552.5 422.9 555.7 421.7C559 420.5 562.2 422.4 564.5 422.9C566.9 423.5 567.8 425.5 569.8 425.2C571.9 424.9 574.5 421.7 576.9 421.2C579.2 420.7 581.3 423.1 583.9 422.2C586.6 421.4 589.5 416.9 592.7 415.9C596 414.9 600.4 416.2 603.3 416.4C606.3 416.7 608.5 417.5 610.4 417.3C612.3 417.2 613.2 415.5 614.8 415.5C616.4 415.5 618.3 417.9 620.1 417.3C621.8 416.7 623.7 412.8 625.4 412C627 411.3 628 413.5 629.8 412.9C631.5 412.3 634.2 409.1 635.9 408.5C637.7 407.9 638.4 409.7 640.3 409.4C642.3 409 644.7 407.1 647.4 406.4C650 405.7 653.6 405.5 656.2 405.3C658.9 405.1 660.9 405.7 663.3 405.3C665.6 405 668 403.4 670.3 403.2C672.7 403 675 405 677.4 404.1C679.7 403.2 681.8 397.8 684.4 397.9C687.1 398 690.9 404.2 693.2 404.6C695.6 405.1 696.7 400.6 698.5 400.6C700.3 400.6 701.9 402.9 703.8 404.6C705.7 406.4 707.4 411.7 710 411.1C712.5 410.6 716.5 400.4 719 401.2C721.4 401.9 722.8 411.8 724.4 415.8C726.1 419.9 727.2 421.3 728.8 425.5C730.4 429.8 732.5 435.2 734.1 441.4C735.7 447.6 736.9 455.5 738.5 462.6C740.1 469.6 742.2 477 743.8 483.7C745.4 490.5 746.6 496.9 748.2 503.1C749.8 509.3 751.9 517.4 753.5 520.7C755.1 524.1 755.7 522.9 757.9 523.4C760.1 523.8 764.4 523.5 766.7 523.4C769.1 523.2 770.2 523.5 772 522.5C773.8 521.5 775.5 517.7 777.3 517.6C779.1 517.4 780.7 520.1 782.6 521.6C784.5 523.2 787 528.2 788.7 526.9C790.5 525.6 791.7 517.4 793.2 513.7C794.6 510 795.9 507.2 797.6 504.9C799.2 502.5 800.8 500.6 802.8 499.6C804.9 498.5 807.5 499.4 809.9 498.7C812.2 498 814.6 496.4 817 495.2C819.3 493.9 821.9 491.6 824 491.1C826.1 490.6 827.5 492.4 829.3 492.2C831.1 492 832.5 490.7 834.6 489.9C836.6 489.1 839.6 486.9 841.6 487.2C843.7 487.5 844.7 492.8 846.9 491.6C849.1 490.5 852.2 481.5 854.8 480.2C857.5 478.9 860.6 484.6 862.8 483.7C865 482.8 866.2 477.6 868.1 474.9C870 472.2 871.9 468.5 874.2 467.5C876.6 466.5 879.7 469.3 882.2 468.7C884.7 468.2 887 464.6 889.2 464.3C891.4 464 893.3 467.4 895.4 467C897.4 466.5 899.7 462.1 901.6 461.7C903.5 461.2 904.8 464 906.8 464.3C908.9 464.6 911.4 464.8 913.9 463.4C916.4 462.1 919.3 456.5 921.8 456.4C924.3 456.2 926.7 461.8 928.9 462.6C931.1 463.4 932.4 460.4 935.1 461.2C937.7 461.9 942.1 466.9 944.7 467C947.4 467.1 948.7 462.3 950.9 461.7C953.1 461.1 955.3 461.5 958 463.4C960.6 465.4 963.3 472.4 966.8 473.5C970.3 474.6 975.9 469.9 979.1 470C982.4 470.1 983.5 472.8 986.2 474C988.8 475.3 992.3 476.5 995 477.5C997.6 478.6 999.7 478.3 1002 480.2C1004.4 482.1 1007 482.8 1009.1 489C1011.1 495.2 1012.8 516.3 1014.4 517.2C1016 518.1 1017.6 499.5 1018.8 494.3C1019.9 489.1 1019.9 489.5 1021.3 486.2C1022.7 482.9 1024.7 477.7 1027.2 474.4C1029.8 471.1 1033.5 468.5 1036.6 466.2C1039.7 463.9 1043 461.9 1046 460.3C1049 458.7 1051.7 457 1054.3 456.8C1056.9 456.6 1059.1 460.1 1061.4 459.1C1063.8 458.1 1065.5 452.5 1068.4 450.9C1071.3 449.3 1075.7 450.7 1079 449.7C1082.3 448.7 1085 446.5 1088.5 445C1092 443.5 1096.3 442.2 1100.2 440.8C1104.1 439.4 1108.9 437.8 1112 436.7C1115.1 435.6 1115.8 434.9 1119 434.4C1122.2 433.9 1127.8 432.3 1130.9 433.7C1134.1 435.1 1135.6 437.6 1137.9 442.6C1140.2 447.6 1142.7 456.7 1145 463.8C1147.3 470.9 1149.7 478.5 1152 485C1154.3 491.5 1157 497 1159 503C1161 509 1161.8 514.2 1163.8 521.2C1165.8 528.2 1168.4 536.9 1170.9 544.8C1173.4 552.6 1176.5 563 1179 568.3C1181.5 573.6 1183.6 572.3 1186.2 576.6C1188.8 580.9 1191.5 588.1 1194.5 594.2C1197.5 600.3 1200.8 606.4 1203.9 613.1C1207 619.8 1210.5 629.4 1213.3 634.3C1216 639.2 1217.7 640.4 1220.4 642.5C1223.2 644.6 1226.3 645.2 1229.8 647.2C1233.3 649.2 1238.1 651.3 1241.6 654.3C1245.1 657.2 1248.3 660 1251 664.9C1253.7 669.8 1255.8 675.9 1258 683.7C1260.2 691.6 1262 701.8 1264 712C1266 722.2 1267.8 734.8 1269.8 745C1271.8 755.2 1273.9 765.4 1275.7 773.3C1277.5 781.1 1278.8 787 1280.4 792.1C1282 797.2 1283.2 801.4 1285.2 803.9C1287.2 806.4 1289.7 808.2 1292.2 807.4C1294.7 806.6 1297.5 802.4 1300 799C1302.5 795.6 1304.7 791.9 1307 787.2C1309.3 782.5 1311.2 778.2 1314 770.7C1316.8 763.2 1320.9 750 1323.6 742.4C1326.3 734.8 1328 730.8 1330 725C1332 719.2 1333.6 711.9 1335.3 707.4C1337 702.9 1337.2 700.5 1340 698C1342.8 695.5 1348.8 695.6 1351.8 692.1C1354.8 688.6 1355.7 684.8 1357.7 676.8C1359.7 668.8 1361.4 653.6 1363.6 643.8C1365.8 634 1368.7 623.2 1370.7 617.9C1372.7 612.6 1373.6 613 1375.4 612C1377.2 611 1379.5 615.3 1381.3 612C1383.1 608.7 1384.4 600 1386 592C1387.6 584 1388.9 572.7 1390.7 563.7C1392.5 554.7 1394.4 545.2 1396.6 537.8C1398.8 530.3 1400.6 525.5 1403.7 519C1406.8 512.5 1411.1 505.7 1415.4 499C1419.7 492.3 1425.3 485 1429.6 478.9C1433.9 472.8 1437.4 468.7 1441.3 462.4C1445.2 456.1 1449.1 447.9 1453 441.2C1456.9 434.5 1461 428.7 1464.9 422.4C1468.9 416.1 1472.8 408.7 1476.7 403.6C1480.6 398.5 1485.4 394.8 1488.5 391.8C1491.6 388.8 1492 388.9 1495.5 385.7C1499 382.5 1505.4 378.2 1509.7 372.7C1514 367.2 1518.3 357.2 1521.4 352.7C1524.5 348.2 1526.1 347.4 1528.5 345.6C1530.9 343.8 1532.8 341.5 1535.6 342.1C1538.3 342.7 1541.9 347.2 1545 349.2C1548.1 351.2 1550.9 352.7 1554.4 353.9C1557.9 355.1 1562.7 355.7 1566.2 356.2C1569.7 356.7 1572.5 357.5 1575.6 356.7C1578.7 355.9 1581.8 355.1 1585 351.5C1588.2 347.9 1591.3 340.9 1594.5 335C1597.7 329.1 1601.2 322.5 1603.9 316.2C1606.7 309.9 1608.7 302.3 1611 297.4C1613.3 292.5 1615.3 289.4 1618 286.7C1620.7 283.9 1624.2 281.9 1627.4 280.9C1630.6 279.9 1633.8 283.6 1636.9 280.9C1640.1 278.1 1643.2 268.7 1646.3 264.4C1649.4 260.1 1652.6 258.8 1655.7 254.9C1658.8 251 1661.8 244.9 1665 240.8C1668.2 236.7 1672.2 232.8 1674.6 230.2C1677 227.6 1677.1 227 1679.3 225.5C1681.5 224 1686.5 221.9 1688 221.2"/>
<path stroke="#00ff00" d="M118 236.6C119.2 236.6 118 237 125.4 236.6C146 236.2 221 234.6 241.3 234.3C247 234 245.3 234 247 235C248.7 236 250 240.5 251.5 240.5C253 240.5 254.2 236 256 235C257.8 234 256 234.7 262.5 234.3C275.8 233.9 311.7 233.8 335.6 232.4C359.6 231 386.6 228.2 406.2 226C425.8 223.8 437.8 221.8 453.4 219C469 216.2 488.3 212.1 500 209.5C511.7 206.9 516.5 205.6 523.6 203.7C530.7 201.8 535.3 200.4 542.4 197.8C549.5 195.2 559.7 190.9 566 188.3C572.3 185.7 576.1 184.6 580 182.4C583.9 180.2 585.5 177.6 589.5 175.4C593.5 173.2 598.6 171.2 603.7 169.5C608.8 167.8 614.9 165 620 165.5C625.1 166 629.2 170.6 634.3 172.6C639.4 174.6 645.7 175.1 650.8 177.7C655.9 180.3 661.1 183.6 665 188.3C668.9 193 671.6 200.3 674.3 206C677 211.7 679 216.6 681.4 222.5C683.8 228.4 685.8 235.4 688.5 241.3C691.2 247.2 695 253.5 697.9 257.8C700.8 262.1 703.5 266.5 706 267.3C708.5 268.1 710.8 262.7 713.2 262.5C715.6 262.3 717.9 266.3 720.3 266C722.6 265.7 724.3 260.9 727.3 260.7C730.2 260.5 734.9 262.2 738 264.9C741.1 267.6 743.5 271.2 746.2 276.7C748.9 282.2 751.9 291.2 754.4 297.9C756.9 304.6 758.7 309.6 761.5 316.7C764.3 323.8 767.9 333.2 771 340.3C774.1 347.4 777.4 353.9 780.3 359.1C783.2 364.3 785.9 369.5 788.6 371.4C791.4 373.3 793.9 371.5 796.8 370.4C799.7 369.3 802.7 367.3 806.2 365C809.7 362.7 814.1 359.8 818 356.8C821.9 353.9 825.9 350.5 829.8 347.3C833.7 344.1 838.5 341.2 841.6 337.9C844.8 334.6 845.6 330.2 848.7 327.3C851.8 324.4 857.7 323.2 860.4 320.3C863.1 317.4 862.2 313.1 865 309.7C867.8 306.3 873 303.3 877 300.2C881 297.1 885.6 293.1 888.7 290.8C891.8 288.5 893.9 288.1 895.8 286.1C897.7 284.1 898.1 280.9 900 278.9C901.9 276.9 904.2 275.6 907 274.2C909.8 272.8 912.6 270.1 916.5 270.2C920.4 270.3 926.5 272.8 930.6 274.9C934.7 277 937.3 281.4 941.2 282.9C945.1 284.3 949.7 282.9 954.2 283.6C958.7 284.3 963.6 285.4 968.3 287.2C973 289 978.5 291.1 982.4 294.2C986.3 297.3 989.1 303.1 991.9 306C994.7 308.9 996.5 311.3 999 311.9C1001.5 312.5 1005.1 305.6 1007.2 309.5C1009.3 313.4 1010.6 326.8 1011.9 335.4C1013.1 344.1 1013.8 361.6 1015 361.4C1016.2 361.2 1017.4 344.3 1018.9 334.2C1020.4 324.2 1021.5 309 1023.7 301.3C1025.9 293.6 1029.1 291.6 1032 288.3C1034.9 285 1037.8 283.7 1041.3 281.3C1044.8 278.9 1049.1 275.9 1053 274.2C1056.9 272.5 1059.8 271.8 1064.9 271.1C1070 270.4 1077.8 270.5 1083.7 270C1089.6 269.5 1095.5 268.3 1100.2 268.3C1104.9 268.3 1108.1 269.1 1112 270.2C1115.9 271.3 1119.9 272.3 1123.8 274.9C1127.7 277.5 1132.1 280.8 1135.6 286C1139.1 291.2 1142.3 299.1 1145 306C1147.7 312.9 1149.7 319.7 1152 327.2C1154.3 334.7 1156.6 342.9 1159 350.8C1161.4 358.7 1163.8 366.9 1166.2 374.3C1168.6 381.8 1170.5 388.4 1173.3 395.5C1176 402.6 1179.2 409.2 1182.7 416.7C1186.2 424.2 1190.6 432.1 1194.5 440.3C1198.4 448.6 1202.7 457.9 1206.2 466.2C1209.7 474.4 1213 483.6 1215.7 489.8C1218.5 496.1 1220.4 499.8 1222.7 503.7C1225 507.6 1226.7 509.7 1229.8 513.2C1232.9 516.8 1238.1 520.8 1241.6 525C1245.1 529.2 1248.3 532.9 1251 538.5C1253.7 544.1 1255.8 551.6 1258 558.9C1260.2 566.2 1262 573.4 1264 582.4C1266 591.4 1267.8 601.3 1269.8 613.1C1271.8 624.9 1273.9 641.3 1275.7 653.1C1277.5 664.9 1278.8 675.5 1280.4 683.7C1282 692 1283.2 698.3 1285.2 702.6C1287.2 706.9 1289.7 709.6 1292.2 709.7C1294.7 709.8 1297.5 706.4 1300 703.3C1302.5 700.2 1304.7 696.6 1307 691C1309.3 685.4 1311.2 678 1314 669.8C1316.8 661.5 1320.4 650.5 1323.6 641.5C1326.8 632.5 1330.1 623.1 1333 615.6C1335.9 608.1 1338.3 603.4 1341.2 596.7C1344.1 590 1347.8 582.6 1350.6 575.5C1353.3 568.4 1355.5 562.5 1357.7 554.3C1359.9 546 1361.4 536.2 1363.6 526C1365.8 515.8 1368.3 504 1370.7 493C1373.1 482 1375.4 471.1 1377.7 460.1C1380 449.1 1382.5 437.2 1384.8 427.1C1387.1 417 1389.3 407.3 1391.3 399.4C1393.3 391.5 1394.5 386.6 1396.6 379.8C1398.7 373 1400.6 365.7 1403.7 358.6C1406.8 351.5 1411.1 344.9 1415.4 337.4C1419.7 329.9 1425.3 321.3 1429.6 313.8C1433.9 306.3 1437.4 299.3 1441.3 292.6C1445.2 285.9 1449.1 279.7 1453 273.8C1456.9 267.9 1461 262.4 1464.9 257.3C1468.9 252.2 1472.8 247.3 1476.7 243.2C1480.6 239.1 1484.6 236.5 1488.5 232.6C1492.4 228.7 1496.3 224.1 1500.2 219.6C1504.1 215.1 1508.9 210.6 1512 205.5C1515.1 200.4 1516.7 193.7 1519 189C1521.3 184.3 1523 180.5 1526 177.2C1529 173.9 1533.2 170 1536.7 169C1540.2 168 1543.6 170.3 1547.3 171.3C1551 172.3 1555.1 173.4 1559 174.9C1562.9 176.4 1567 178.9 1570.9 180.3C1574.9 181.7 1578.8 184.2 1582.7 183.1C1586.6 182 1591 177.4 1594.5 173.7C1598 170 1600.8 166 1603.9 160.7C1607 155.4 1610.2 147.2 1613.3 141.9C1616.4 136.6 1619.2 133.6 1622.7 128.9C1626.2 124.2 1630.6 118.1 1634.5 113.6C1638.4 109.1 1642 105.7 1646.3 101.8C1650.6 97.9 1656.1 93.9 1660.4 90C1664.7 86.1 1669.1 81 1672.2 78.3C1675.3 75.6 1676.7 74.9 1679.3 73.6C1681.9 72.3 1686.5 71.2 1688 70.7"/>
</g>
<g fill="none" stroke="#808080" stroke-linecap="butt">
<path d="M670.6 218.4V386M730.6 218.4V386" stroke-width="4.6" stroke-dasharray="26.4 1.1"/>
<path d="M670.6 386V850M730.6 386V850" stroke-width="4.6" stroke-dasharray="6.1 0.5"/>
<path d="M670.6 850V1068.9M730.6 850V1068.9" stroke-width="4.6" stroke-dasharray="26.4 1.1"/>
<path d="M668.3 220.7H732.9M668.3 1066.6H732.9" stroke-width="4.6" stroke-dasharray="25.8 1.2"/>
<path d="M758.5 285.2V386M818.5 285.2V386" stroke-width="4.8" stroke-dasharray="26.4 1.1"/>
<path d="M758.5 386V850M818.5 386V850" stroke-width="4.8" stroke-dasharray="6.1 0.5"/>
<path d="M758.5 850V1135.3M818.5 850V1135.3" stroke-width="4.8" stroke-dasharray="26.4 1.1"/>
<path d="M756.1 287.6H820.9M756.1 1132.9H820.9" stroke-width="4.8" stroke-dasharray="25.8 1.2"/>
<path d="M1002 253V386M1026 253V386" stroke-width="3.9" stroke-dasharray="26.4 1.1"/>
<path d="M1002 386V850M1026 386V850" stroke-width="3.9" stroke-dasharray="6.1 0.5"/>
<path d="M1002 850V1102.9M1026 850V1102.9" stroke-width="3.9" stroke-dasharray="26.4 1.1"/>
<path d="M1000 254.9H1028M1000 1100.9H1028" stroke-width="3.9" stroke-dasharray="5.6 1.4"/>
<path d="M1219 442V850M1243 442V850" stroke-width="4" stroke-dasharray="6.1 0.5"/>
<path d="M1219 850V1150.7M1243 850V1150.7" stroke-width="4" stroke-dasharray="26.4 1.1"/>
<path d="M1217 444H1245M1217 1148.7H1245" stroke-width="4" stroke-dasharray="5.6 1.4"/>
<path d="M1280.3 470.3V850M1311 470.3V850" stroke-width="4" stroke-dasharray="6.1 0.5"/>
<path d="M1280.3 850V1198.5M1311 850V1198.5" stroke-width="4" stroke-dasharray="26.4 1.1"/>
<path d="M1278.3 472.3H1313M1278.3 1196.5H1313" stroke-width="4" stroke-dasharray="5.6 1.4"/>
<path d="M1341.3 357.1V386M1392 357.1V386" stroke-width="4.3" stroke-dasharray="26.4 1.1"/>
<path d="M1341.3 386V850M1392 386V850" stroke-width="4.3" stroke-dasharray="6.1 0.5"/>
<path d="M1341.3 850V1152.2M1392 850V1152.2" stroke-width="4.3" stroke-dasharray="26.4 1.1"/>
<path d="M1339.1 359.2H1394.2M1339.1 1150.1H1394.2" stroke-width="4.3" stroke-dasharray="5.6 1.4"/>
</g>
<g font-size="53" text-anchor="middle" transform="scale(1 1.04)">
<text x="174" y="1290.38">2250</text>
<text x="319.7" y="1290.38">2100</text>
<text x="465.4" y="1290.38">1950</text>
<text x="611.2" y="1290.38">1800</text>
<text x="756.9" y="1290.38">1650</text>
<text x="902.6" y="1290.38">1500</text>
<text x="1048.3" y="1290.38">1350</text>
<text x="1194" y="1290.38">1200</text>
<text x="1339.8" y="1290.38">1050</text>
<text x="1485.5" y="1290.38">900</text>
<text x="1631.2" y="1290.38">750</text>
</g>
<text font-size="65.3" y="1451"><tspan x="613.6" letter-spacing="0.12">Wavenumber</tspan> <tspan x="1017" letter-spacing="0.93">[cm</tspan><tspan x="1124.2" y="1422.2" font-size="44">−</tspan><tspan x="1149.3" y="1423.7" font-size="44">1</tspan><tspan x="1174.3" y="1451">]</tspan></text>
<text transform="translate(72.2 908.5) rotate(-90)" font-size="65.3" textLength="524" lengthAdjust="spacing">Transmittance [%]</text>
<g class="b" font-size="58.9" transform="scale(1 1.04)">
<text x="143.8" y="186.54">G/rCB<tspan dy="3">_</tspan><tspan dy="-3">SA</tspan><tspan dy="3">_</tspan><tspan dy="-3">3h</tspan></text>
<text x="144" y="385.58">rCB<tspan dy="3">_</tspan><tspan dy="-3">BDS</tspan><tspan dy="3">_</tspan><tspan dy="-3">20h</tspan></text>
<text x="144" y="563.46">rCB<tspan dy="3">_</tspan><tspan dy="-3">SA</tspan><tspan dy="3">_</tspan><tspan dy="-3">24h</tspan></text>
<text x="144" y="721.63">rCB<tspan dy="3">_</tspan><tspan dy="-3">SA</tspan><tspan dy="3">_</tspan><tspan dy="-3">3h</tspan></text>
<text x="144" y="929.81">rCB</text>
</g>
<path d="M313.4 199.9h33.9v5.7h-33.9zM427.9 199.9h33.9v5.7h-33.9zM251.4 406.9h33.9v5.7h-33.9zM408.4 406.9h33.9v5.7h-33.9zM251.4 591.9h33.9v5.7h-33.9zM365.9 591.9h33.9v5.7h-33.9zM251.4 756.4h33.9v5.7h-33.9zM365.9 756.4h33.9v5.7h-33.9z" fill="#000"/>
<g class="b" font-size="44.8" transform="scale(1 1.04)" stroke="#fff" stroke-width="0.7" stroke-linejoin="round">
<text x="651" y="1070.00">C=O</text>
<text x="748.7" y="1140.19">C-O</text>
<text x="968" y="1105.58">S=O</text>
<text x="1184" y="1148.75">S=O</text>
<text x="1264.7" y="1198.37">C-O</text>
<text x="1321.8" y="1148.75">S=O</text>
</g>
</svg></body></html>
